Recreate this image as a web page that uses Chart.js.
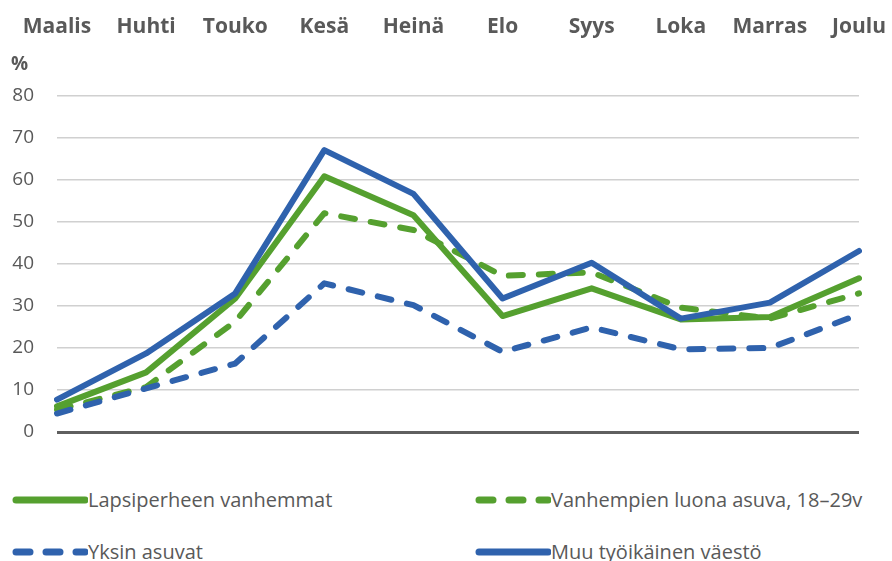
<!DOCTYPE html>
<html>
<head>
<meta charset="utf-8">
<script src="https://cdn.jsdelivr.net/npm/chart.js@4"></script>
<style>
  body { margin: 0; width: 892px; height: 561px; overflow: hidden; background: #fff; font-family: 'Open Sans', sans-serif; color: #595959; }
  #wrap { position: absolute; left: 0; top: 0; width: 892px; height: 470px; }
  #pct { position: absolute; left: 11px; top: 50px; font-weight: 700; font-size: 19px; }
  .leg { position: absolute; display: flex; align-items: center; font-size: 20px; white-space: nowrap; }
</style>
</head>
<body>
<div id="wrap"><canvas id="chart"></canvas></div>
<div id="pct">%</div>
<div id="legend"></div>
<script>
// kuukaudet ja sarjat
const months = ['Maalis', 'Huhti', 'Touko', 'Kesä', 'Heinä', 'Elo', 'Syys', 'Loka', 'Marras', 'Joulu'];
const lapsiperheet = [6.1, 14.2, 31.8, 60.9, 51.6, 27.6, 34.2, 26.8, 27.4, 36.6];
const vanhempienLuona = [5.3, 10.7, 26.3, 52.1, 48.1, 37.2, 38.0, 29.6, 27.0, 33.0];
const yksinAsuvat = [4.4, 10.4, 16.3, 35.4, 30.2, 19.1, 24.9, 19.7, 20.0, 28.0];
const muuVaesto = [7.7, 18.7, 33.0, 67.1, 56.7, 31.8, 40.3, 27.0, 30.8, 43.1];
const yTicks = [0, 10, 20, 30, 40, 50, 60, 70, 80];

const GREEN = '#55a02f';
const BLUE = '#2f62ad';
const DASH = [14, 16];

const series = [
  { label: 'Lapsiperheen vanhemmat', data: lapsiperheet, color: GREEN, dash: [], order: 4 },
  { label: 'Vanhempien luona asuva, 18–29v', data: vanhempienLuona, color: GREEN, dash: DASH, order: 3 },
  { label: 'Yksin asuvat', data: yksinAsuvat, color: BLUE, dash: DASH, order: 2 },
  { label: 'Muu työikäinen väestö', data: muuVaesto, color: BLUE, dash: [], order: 1 }
];

new Chart(document.getElementById('chart'), {
  type: 'line',
  data: {
    labels: months,
    datasets: series.map(s => ({
      label: s.label,
      data: s.data,
      borderColor: s.color,
      backgroundColor: s.color,
      borderWidth: 6,
      borderDash: s.dash,
      borderCapStyle: 'round',
      borderJoinStyle: 'round',
      pointRadius: 0,
      tension: 0,
      order: s.order
    }))
  },
  options: {
    responsive: true,
    maintainAspectRatio: false,
    animation: false,
    layout: { padding: { left: 0, right: 33, top: 0, bottom: 38 } },
    plugins: { legend: { display: false }, tooltip: { enabled: false } },
    scales: {
      x: {
        position: 'top',
        offset: false,
        grid: { display: false, drawTicks: false },
        border: { display: false },
        ticks: {
          // iso riviväli siirtää kuukaudet ylös ilman sivupehmustetta
          autoSkip: false, maxRotation: 0, padding: 0, color: '#595959',
          font: { family: "'Open Sans'", size: 21, weight: 'bold', lineHeight: '138px' }
        },
        afterFit: s => { s.height = 96; }
      },
      y: {
        min: 0, max: 80,
        afterBuildTicks: s => { s.ticks = yTicks.map(v => ({ value: v })); },
        grid: {
          drawTicks: false,
          color: c => c.tick && c.tick.value === 0 ? '#5f5f5f' : '#d0d0d0',
          lineWidth: c => c.tick && c.tick.value === 0 ? 3 : 1.5
        },
        border: { display: false },
        ticks: { padding: 23, color: '#595959', font: { family: "'Open Sans'", size: 19 } },
        afterFit: s => { s.width = 57; }
      }
    }
  }
});

// selite
const legPos = [
  { left: 12, top: 500 }, { left: 475, top: 500 },
  { left: 12, top: 552 }, { left: 475, top: 552 }
];
const legend = document.getElementById('legend');
series.forEach((s, i) => {
  const el = document.createElement('div');
  el.className = 'leg';
  el.style.left = legPos[i].left + 'px';
  el.style.top = (legPos[i].top - 14) + 'px';
  const dash = s.dash.length ? `stroke-dasharray="${s.dash.join(' ')}"` : '';
  el.innerHTML = `<svg width="76" height="12"><line x1="4" y1="6" x2="73" y2="6" stroke="${s.color}" stroke-width="7" stroke-linecap="round" ${dash}/></svg><span>${s.label}</span>`;
  legend.appendChild(el);
});
</script>
</body>
</html>
